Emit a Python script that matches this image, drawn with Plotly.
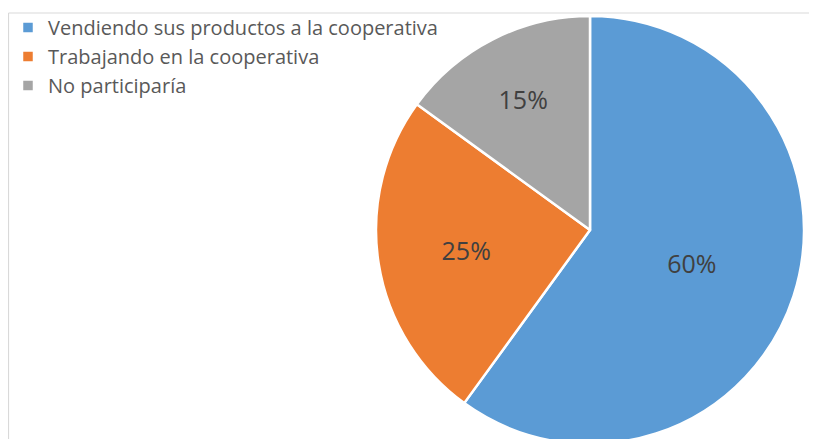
import plotly.graph_objects as go

labels = ["Vendiendo sus productos a la cooperativa", "Trabajando en la cooperativa", "No participaría"]
values = [60, 25, 15]
colors = ["#5B9BD5", "#ED7D31", "#A5A5A5"]

W, H = 817, 439
T, B = 8, 3
PH = H - T - B
CX, R = 582, 214
fig = go.Figure(go.Pie(
    labels=labels, values=values, sort=False, direction="clockwise", rotation=0,
    marker=dict(colors=colors, line=dict(color="white", width=2.5)),
    textinfo="percent", textposition="inside", insidetextorientation="horizontal",
    textfont=dict(family="Open Sans", size=25, color="#404040"),
    domain=dict(x=[(CX - R) / W, (CX + R) / W], y=[0, 1]),
    hoverinfo="label+percent",
))
fig.update_layout(
    width=W, height=H, margin=dict(l=0, r=0, t=T, b=B),
    paper_bgcolor="white", plot_bgcolor="white",
    showlegend=True,
    legend=dict(x=0.0, y=1 + 8 / PH, xanchor="left", yanchor="top",
                font=dict(family="Open Sans", size=20, color="#595959"),
                bgcolor="rgba(0,0,0,0)"),
    shapes=[
        dict(type="line", xref="paper", yref="paper", x0=0.5 / W, x1=1, y0=1 + 3 / PH, y1=1 + 3 / PH,
             line=dict(color="#D9D9D9", width=1.2)),
        dict(type="line", xref="paper", yref="paper", x0=0.5 / W, x1=0.5 / W, y0=-B / PH, y1=1 + 3 / PH,
             line=dict(color="#D9D9D9", width=1.2)),
    ],
)
fig.write_html("out.html")
